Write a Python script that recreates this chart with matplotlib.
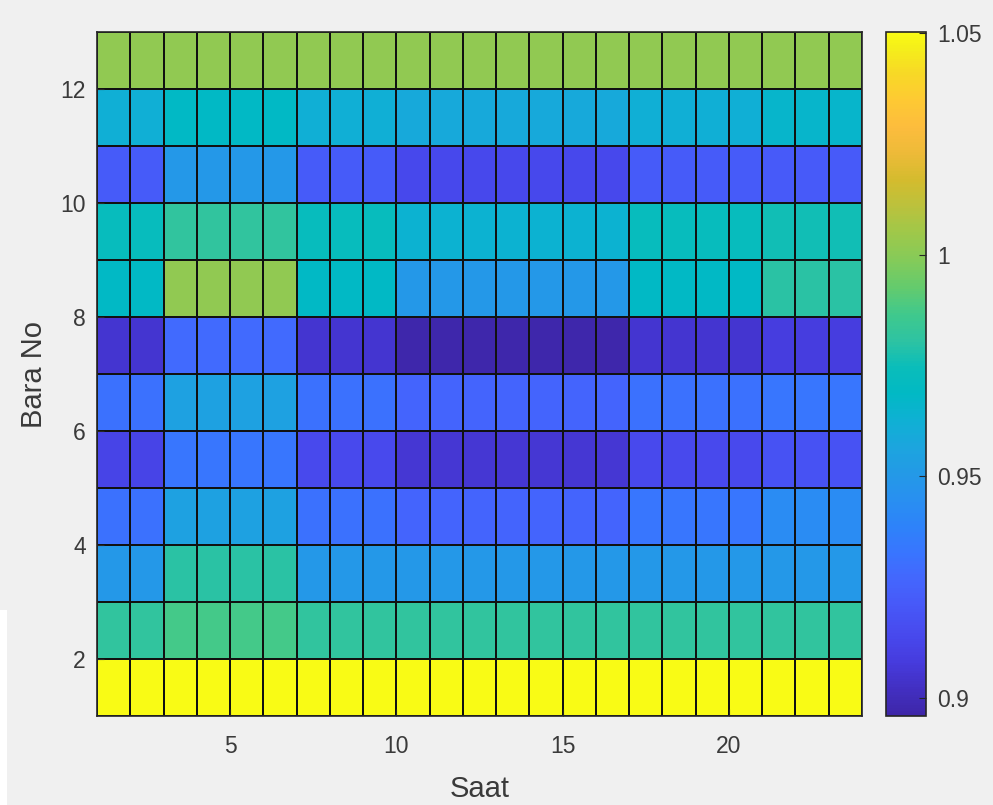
import numpy as np
import matplotlib
matplotlib.use("Agg")
import matplotlib.pyplot as plt
from matplotlib.colors import LinearSegmentedColormap
from matplotlib.patches import Rectangle

# hours (column edges) and bus numbers (row edges)
saat = list(range(1, 25))
bara = list(range(1, 14))

# values per bus row (bottom row first), 23 hours each
row1 = [1.0502] * 23
row2 = [0.982, 0.982, 0.987, 0.987, 0.987, 0.987, 0.982, 0.982, 0.982, 0.982, 0.982, 0.982,
        0.982, 0.982, 0.982, 0.982, 0.982, 0.982, 0.982, 0.982, 0.982, 0.982, 0.982]
row3 = [0.950, 0.950, 0.980, 0.980, 0.980, 0.980, 0.950, 0.950, 0.950, 0.950, 0.950, 0.950,
        0.950, 0.950, 0.950, 0.950, 0.950, 0.950, 0.950, 0.950, 0.950, 0.950, 0.950]
row4 = [0.931, 0.931, 0.955, 0.955, 0.955, 0.955, 0.931, 0.931, 0.931, 0.926, 0.926, 0.926,
        0.926, 0.926, 0.926, 0.926, 0.933, 0.933, 0.933, 0.933, 0.943, 0.943, 0.943]
row5 = [0.912, 0.912, 0.933, 0.933, 0.933, 0.933, 0.9145, 0.9145, 0.9145, 0.906, 0.906, 0.906,
        0.906, 0.906, 0.906, 0.906, 0.9145, 0.9145, 0.9145, 0.9145, 0.918, 0.918, 0.918]
row6 = [0.931, 0.931, 0.955, 0.955, 0.955, 0.955, 0.931, 0.931, 0.931, 0.926, 0.926, 0.926,
        0.926, 0.926, 0.926, 0.926, 0.931, 0.931, 0.931, 0.931, 0.933, 0.933, 0.933]
row7 = [0.9056, 0.9056, 0.9285, 0.9285, 0.9285, 0.9285, 0.9056, 0.9056, 0.9056, 0.897, 0.897, 0.897,
        0.897, 0.897, 0.897, 0.897, 0.9056, 0.9056, 0.9056, 0.9056, 0.909, 0.909, 0.909]
row8 = [0.9686, 0.9686, 1.0015, 1.0015, 1.0015, 1.0015, 0.9686, 0.9686, 0.9686, 0.950, 0.950, 0.950,
        0.950, 0.950, 0.950, 0.950, 0.9686, 0.9686, 0.9686, 0.9686, 0.980, 0.980, 0.980]
row9 = [0.973, 0.973, 0.982, 0.982, 0.982, 0.982, 0.973, 0.973, 0.973, 0.964, 0.964, 0.964,
        0.964, 0.964, 0.964, 0.964, 0.973, 0.973, 0.973, 0.973, 0.976, 0.976, 0.976]
row10 = [0.922, 0.922, 0.950, 0.950, 0.950, 0.950, 0.922, 0.922, 0.922, 0.914, 0.914, 0.914,
         0.914, 0.914, 0.914, 0.914, 0.922, 0.922, 0.922, 0.922, 0.9215, 0.9215, 0.9215]
row11 = [0.9617, 0.9617, 0.9686, 0.9686, 0.9686, 0.9686, 0.9617, 0.9617, 0.9617, 0.959, 0.959, 0.959,
         0.959, 0.959, 0.959, 0.959, 0.9617, 0.9617, 0.9617, 0.9617, 0.9663, 0.9663, 0.9663]
row12 = [1.0015] * 23

C = np.array([row1, row2, row3, row4, row5, row6, row7, row8, row9, row10, row11, row12])

# parula-like colormap
parula = LinearSegmentedColormap.from_list("parula", [
    (0.000, (0.2422, 0.1504, 0.6603)),
    (0.039, (0.2594, 0.1854, 0.7610)),
    (0.078, (0.2749, 0.2330, 0.8692)),
    (0.118, (0.2809, 0.2875, 0.9305)),
    (0.157, (0.2798, 0.3421, 0.9702)),
    (0.196, (0.2670, 0.3973, 0.9924)),
    (0.235, (0.2250, 0.4559, 0.9985)),
    (0.275, (0.1800, 0.5100, 0.9800)),
    (0.314, (0.1600, 0.5600, 0.9450)),
    (0.353, (0.1400, 0.6000, 0.9050)),
    (0.392, (0.1100, 0.6470, 0.8700)),
    (0.431, (0.0600, 0.6900, 0.8300)),
    (0.471, (0.0050, 0.7250, 0.7700)),
    (0.510, (0.0400, 0.7420, 0.7300)),
    (0.549, (0.1800, 0.7650, 0.6350)),
    (0.588, (0.2500, 0.7880, 0.5500)),
    (0.627, (0.3900, 0.7950, 0.4300)),
    (0.667, (0.5200, 0.7950, 0.3500)),
    (0.706, (0.6200, 0.7850, 0.2900)),
    (0.745, (0.7300, 0.7600, 0.2400)),
    (0.784, (0.8300, 0.7350, 0.1800)),
    (0.824, (0.9300, 0.7300, 0.2200)),
    (0.863, (0.9900, 0.7400, 0.2400)),
    (0.902, (0.9950, 0.7900, 0.2000)),
    (0.941, (0.9700, 0.8500, 0.1500)),
    (0.980, (0.9600, 0.9400, 0.1000)),
    (1.000, (0.9769, 0.9839, 0.0805)),
], N=256)

plt.rcParams["font.family"] = ["Liberation Sans", "DejaVu Sans"]
txt = "#3a3a3a"

fig = plt.figure(figsize=(9.93, 8.05), dpi=100)
fig.patch.set_facecolor("#f0f0f0")
fig.patches.append(Rectangle((0, 0), 7 / 993, 195 / 805, transform=fig.transFigure,
                             facecolor="white", edgecolor="none", zorder=0))

ax = fig.add_axes([97 / 993, 89 / 805, 765 / 993, 684 / 805])
mesh = ax.pcolormesh(saat, bara, C, cmap=parula, vmin=0.896, vmax=1.0502,
                     edgecolors="#111111", linewidth=1.4)
ax.set_xlim(1, 24)
ax.set_ylim(1, 13)
ax.set_xticks([5, 10, 15, 20])
ax.set_yticks([2, 4, 6, 8, 10, 12])
ax.tick_params(direction="in", length=5, colors="#262626", labelcolor=txt,
               labelsize=16.5, pad=8)
ax.tick_params(axis="x", pad=14)
for s in ax.spines.values():
    s.set_color("#262626")
    s.set_linewidth(1.2)
ax.set_xlabel("Saat", fontsize=21, color=txt, labelpad=12)
ax.set_ylabel("Bara No", fontsize=21, color=txt, labelpad=9)

cax = fig.add_axes([886 / 993, 89 / 805, 40 / 993, 684 / 805])
cb = fig.colorbar(mesh, cax=cax)
cb.set_ticks([0.9, 0.95, 1.0, 1.05])
cb.set_ticklabels(["0.9", "0.95", "1", "1.05"])
cb.outline.set_edgecolor("#262626")
cb.outline.set_linewidth(1.2)
cax.tick_params(direction="in", length=5, colors="#262626", labelcolor=txt,
                labelsize=16.5, pad=8)

fig.savefig("out.png", dpi=100, facecolor=fig.get_facecolor())
